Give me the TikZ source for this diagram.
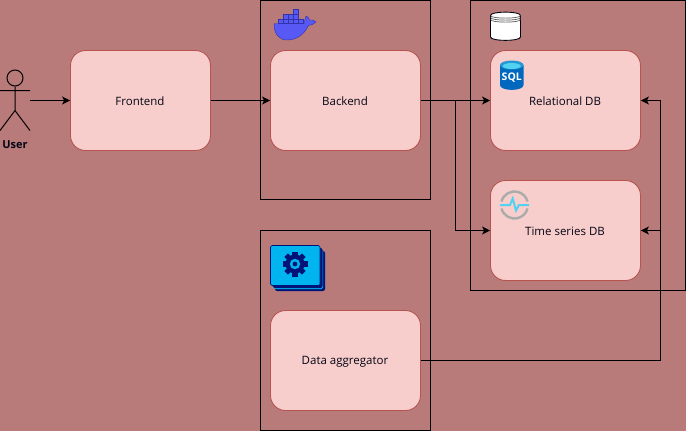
\documentclass[tikz,border=0pt]{standalone}
\usepackage{fontspec}
\setmainfont{Open Sans}
\usetikzlibrary{arrows.meta,calc}
\definecolor{bgc}{RGB}{185,123,121}
\definecolor{boxf}{RGB}{248,206,204}
\definecolor{boxd}{RGB}{184,84,80}
\definecolor{ink}{RGB}{0,0,0}
\definecolor{txt}{RGB}{4,4,20}
\definecolor{whale}{RGB}{88,88,245}
\definecolor{whaled}{RGB}{50,50,170}
\definecolor{sqlb}{RGB}{0,104,190}
\definecolor{sqlc}{RGB}{80,210,240}
\definecolor{gearb}{RGB}{0,180,240}
\definecolor{geard}{RGB}{0,20,120}
\tikzset{
 x=1pt,y=-1pt,
 svc/.style={draw=boxd,fill=boxf,rounded corners=15pt,inner sep=0pt,line width=.9pt},
 lbl/.style={font=\fontsize{11.5}{14}\selectfont,text=txt,inner sep=0pt},
 group/.style={draw=ink,line width=1pt,inner sep=0pt},
 link/.style={draw=ink,line width=1pt,-{Stealth[length=8pt,width=8pt,inset=2pt]}},
 plain/.style={draw=ink,line width=1pt},
}
\begin{document}
\begin{tikzpicture}
\useasboundingbox (0,0) rectangle (686,431);
\fill[bgc] (0,0) rectangle (686,431);
% groups
\node[group,minimum width=170pt,minimum height=199.5pt] (g1) at (345.5,100) {};
\node[group,minimum width=215pt,minimum height=290pt] (g2) at (578,145.5) {};
\node[group,minimum width=170pt,minimum height=200pt] (g3) at (345.5,330.5) {};
% boxes
\node[svc,minimum width=140pt,minimum height=100pt] (fe) at (140.5,100.5) {};
\node[svc,minimum width=150pt,minimum height=100pt] (be) at (345.5,100.5) {};
\node[svc,minimum width=150pt,minimum height=100pt] (rdb) at (565.5,100.5) {};
\node[svc,minimum width=150pt,minimum height=100pt] (tsdb) at (565.5,230.5) {};
\node[svc,minimum width=150pt,minimum height=100pt] (agg) at (345.5,360.5) {};
\node[lbl] (fet) at (140,101.5) {Frontend};
\node[lbl] (bet) at (345,101.5) {Backend};
\node[lbl] (rdbt) at (565,101.5) {Relational DB};
\node[lbl] (tsdbt) at (565,231.5) {Time series DB};
\node[lbl] (aggt) at (345,361.5) {Data aggregator};
% actor
\node[draw=ink,line width=1pt,circle,minimum size=16pt,inner sep=0pt] (head) at (15,78) {};
\coordinate (hip) at (15,110.5);
\coordinate (armL) at (0,90.5);
\coordinate (armR) at (30,90.5);
\coordinate (legL) at (0,130.5);
\coordinate (legR) at (30,130.5);
\coordinate (uout) at (30,100.5);
\draw[plain] (head.south) -- (hip) (armL) -- (armR) (legL) -- (hip) -- (legR);
\node[font=\fontsize{11}{14}\selectfont\bfseries,text=txt,inner sep=0pt] (ulabel) at (15,144.5) {User};
% connectors
\draw[link] (uout) -- (fe.west);
\draw[link] (fe.east) -- (be.west);
\draw[link] (be.east) -- (rdb.west);
\coordinate (branch) at (455.5,100.5);
\draw[link] (branch) |- (tsdb.west);
\coordinate (rail) at (660.5,360.5);
\draw[link] (agg.east) -- (rail) |- (tsdb.east);
\draw[link] (rail) |- (rdb.east);
% docker whale
\begin{scope}[shift={(260,0)}]
\fill[whale,draw=whaled,line width=.4pt] (14,23.5) -- (44,23.5) .. controls (45,21) and (45,18) .. (46,16)
 .. controls (48,16.5) and (49,18) .. (49.5,20) .. controls (51.5,19.5) and (54.5,20) .. (56,22)
 .. controls (54,24.5) and (51,25) .. (48.5,25.5) .. controls (45,33) and (38,40) .. (27,40)
 .. controls (19,40) and (14,34) .. (14,23.5) -- cycle;
\foreach \a/\b in {18/18.8,23/18.8,28/18.8,33/18.8,38/18.8,23/14,28/14,33/14,33/9.2}{\fill[whale,draw=whaled,line width=.3pt] (\a,\b) rectangle +(4.8,4.8);}
\end{scope}
% database cylinder
\begin{scope}[shift={(490,10)}]
\fill[white,draw=txt,line width=.9pt] (0.5,5.5) -- (0.5,27) .. controls (0.5,31.5) and (30.5,31.5) .. (30.5,27) -- (30.5,5.5)
 .. controls (30.5,1) and (0.5,1) .. (0.5,5.5) -- cycle;
\draw[black!65,line width=.7pt] (0.5,5.5) .. controls (0.5,9) and (30.5,9) .. (30.5,5.5)
 (0.5,7.5) .. controls (0.5,11) and (30.5,11) .. (30.5,7.5)
 (0.5,9.5) .. controls (0.5,13) and (30.5,13) .. (30.5,9.5);
\end{scope}
% SQL icon
\begin{scope}[shift={(500,60)}]
\fill[sqlb] (0,5) -- (0,25) .. controls (0,31.5) and (23.5,31.5) .. (23.5,25) -- (23.5,5) -- cycle;
\fill[sqlb!55!sqlc] (11.75,5) ellipse [x radius=11.75pt,y radius=4.5pt];
\fill[sqlc] (11.75,6) ellipse [x radius=9pt,y radius=3pt];
\node[font=\fontsize{10.5}{11}\selectfont\bfseries,text=white,inner sep=0pt] (sqlt) at (11.75,17.5) {SQL};
\end{scope}
% time series icon
\begin{scope}[shift={(500,190)}]
\draw[black!33,line width=2.4pt] (14.5,15) ++(-165:13.5pt) arc[start angle=-165,end angle=-15,radius=13.5pt];
\draw[black!33,line width=2.4pt] (14.5,15) ++(165:13.5pt) arc[start angle=165,end angle=15,radius=13.5pt];
\draw[sqlc,line width=2pt] (0,15) -- (10,15) -- (12.7,8.5) -- (16,20.5) -- (19,15) -- (29,15);
\end{scope}
% gear stack
\begin{scope}[shift={(270,245)}]
\fill[geard,rounded corners=2pt] (5,6) rectangle (55,46);
\fill[gearb,rounded corners=2pt] (3.5,4) rectangle (53,44);
\fill[geard,rounded corners=2pt] (3,3) rectangle (52.5,43);
\fill[gearb,draw=geard,line width=.6pt,rounded corners=1.5pt] (0.5,0.5) rectangle (50,40.5);
\foreach \r in {0,45,...,315}{\fill[geard,rotate around={\r:(25,19)}] (22.4,6.5) rectangle (27.6,12);}
\fill[geard] (25,19) circle (9.5pt);
\fill[gearb] (25,19) circle (5.2pt);
\fill[geard] (25,19) circle (2.4pt);
\end{scope}
\end{tikzpicture}
\end{document}
